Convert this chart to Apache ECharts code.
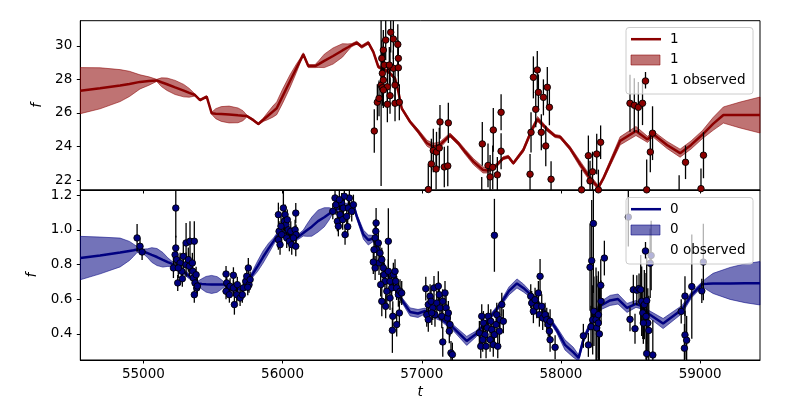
<!DOCTYPE html>
<html><head><meta charset="utf-8">
<script src="https://cdn.jsdelivr.net/npm/echarts@6/dist/echarts.min.js"></script>
<style>html,body{margin:0;padding:0;background:#fff}#c{width:800px;height:400px}</style>
</head><body><div id="c"></div>
<script>
// ---------- tick labels ----------
const xTicks = [55000, 56000, 57000, 58000, 59000];
const yTicksTop = [22, 24, 26, 28, 30];
const yTicksBottom = [0.4, 0.6, 0.8, 1.0, 1.2];

// ---------- GP prediction, output "1" (top panel) ----------
const gp1T = [54547,54689,54833,54900,54976,55040,55096,55130,55170,55228,55290,55330,55371,55407,55455,55491,55520,55560,55616,55680,55715,55743,55788,55826,55862,55889,55930,55958,56000,56054,56100,56130,56149,56185,56234,56260,56300,56363,56430,56470,56497,56533,56569,56616,56652,56688,56760,56808,56832,56856,56916,56976,57038,57083,57131,57203,57263,57311,57371,57440,57476,57527,57586,57622,57658,57730,57790,57832,57898,57958,57994,58065,58137,58209,58269,58305,58425,58539,58622,58662,58762,58856,58935,59017,59093,59167,59287,59430];
const gp1Mean = [27.33,27.47,27.63,27.73,27.85,27.90,27.94,27.83,27.71,27.52,27.33,27.20,27.07,26.77,26.97,25.98,25.96,25.94,25.91,25.86,25.84,25.82,25.59,25.35,25.60,25.79,26.08,26.28,26.99,27.90,28.67,29.17,29.49,28.79,28.79,28.91,29.10,29.39,29.72,29.91,30.04,30.18,29.94,30.18,29.64,28.75,28.46,28.06,27.27,26.28,25.48,24.89,24.20,24.00,24.10,24.69,24.20,23.70,23.11,22.61,22.58,22.81,23.31,23.40,23.01,23.80,24.99,25.64,25.05,24.63,24.58,23.90,22.97,22.12,21.57,22.12,24.34,24.93,24.43,24.75,24.10,23.61,24.10,24.72,25.35,25.88,25.88,25.88];
const gp1Sd = [1.37,1.22,0.95,0.75,0.42,0.25,0.06,0.26,0.37,0.42,0.37,0.26,0.06,0.06,0.06,0.06,0.30,0.44,0.50,0.44,0.30,0.06,0.06,0.06,0.10,0.20,0.33,0.38,0.42,0.38,0.25,0.12,0.09,0.09,0.09,0.20,0.40,0.48,0.40,0.20,0.09,0.09,0.09,0.09,0.09,0.09,0.09,0.09,0.09,0.09,0.09,0.12,0.18,0.20,0.18,0.12,0.12,0.15,0.18,0.18,0.15,0.12,0.09,0.09,0.09,0.12,0.15,0.15,0.12,0.09,0.09,0.12,0.18,0.18,0.12,0.12,0.24,0.27,0.18,0.18,0.21,0.24,0.24,0.24,0.38,0.48,0.77,1.07];

// ---------- observations, output "1" ----------
const obs1T = [56659,56681,56693,56708,56717,56724,56713,56731,56724,56717,56741,56753,56753,56777,56772,56796,56808,56796,56772,56808,56839,56828,56832,56832,56767,56724,
57047,57069,57083,57103,57106,57126,57131,57162,57187,57191,
57431,57435,57476,57491,57510,57514,57543,57570,57570,
57778,57785,57802,57819,57830,57838,57859,57874,57891,57902,57917,57929,
58148,58197,58209,58227,58257,58285,58269,
58496,58527,58556,58586,58616,58642,58658,58849,
58895,59006,59024];
const obs1F = [24.93,26.64,26.87,27.66,28.36,29.74,29.25,28.85,27.96,27.50,30.34,27.56,26.52,30.80,28.75,30.40,27.66,28.66,27.03,26.58,26.64,30.08,29.25,28.69,28.85,27.37,
21.45,22.97,23.77,22.67,23.68,23.92,25.47,22.79,22.85,25.41,
20.90,24.16,22.88,22.20,22.77,24.99,22.32,23.73,26.04,
22.36,24.85,28.12,26.22,28.56,27.23,24.85,26.93,24.04,27.53,26.34,22.06,
21.43,23.46,21.96,22.50,23.56,24.26,21.43,
26.58,26.46,26.34,26.58,21.43,23.68,24.80,21.00,
23.07,21.50,23.49];
const obs1E = [1.3,1.07,1.07,6.0,1.2,1.2,1.07,1.07,1.07,1.07,1.2,1.07,1.07,1.2,1.07,1.2,1.07,1.07,1.07,1.07,1.07,1.2,1.07,1.07,1.07,1.07,
1.5,1.5,1.3,1.2,1.2,1.2,1.0,1.2,1.2,1.2,
1.3,1.3,1.3,1.3,1.3,1.3,1.07,1.07,1.07,
1.2,1.2,1.25,1.07,1.13,1.07,1.07,1.07,1.2,1.2,1.07,1.07,
1.2,1.2,1.2,1.2,1.2,1.0,1.2,
1.7,1.6,1.5,1.3,1.8,1.2,1.6,1.3,
1.0,1.2,1.37];

// ---------- GP prediction, output "0" (bottom panel) ----------
const gp0T = [54547,54689,54833,54900,54930,54955,55000,55030,55060,55098,55140,55175,55199,55300,55393,55420,55450,55490,55530,55560,55580,55647,55716,55767,55790,55820,55860,55900,55935,55958,55994,56040,56102,56149,56175,56210,56255,56300,56335,56356,56449,56509,56533,56581,56616,56652,56700,56772,56856,56916,56973,57024,57131,57227,57323,57390,57469,57562,57627,57684,57730,57778,57850,57922,57970,58029,58089,58127,58161,58233,58281,58353,58410,58475,58539,58579,58626,58734,58870,58938,59017,59050,59093,59215,59323,59430];
const gp0Mean = [0.837,0.852,0.869,0.878,0.882,0.886,0.875,0.865,0.855,0.843,0.827,0.814,0.806,0.751,0.691,0.688,0.686,0.685,0.685,0.685,0.685,0.650,0.665,0.722,0.751,0.789,0.843,0.893,0.933,0.962,0.991,0.976,0.953,0.981,0.997,1.018,1.050,1.072,1.092,1.105,1.137,1.144,1.077,0.972,0.941,0.950,0.855,0.711,0.597,0.527,0.518,0.532,0.492,0.435,0.360,0.400,0.475,0.567,0.648,0.691,0.665,0.630,0.567,0.481,0.423,0.337,0.294,0.262,0.366,0.492,0.561,0.593,0.601,0.550,0.573,0.561,0.518,0.460,0.541,0.625,0.688,0.689,0.691,0.691,0.692,0.692];
const gp0Sd = [0.125,0.106,0.083,0.055,0.035,0.017,0.014,0.025,0.042,0.049,0.042,0.025,0.017,0.014,0.014,0.030,0.045,0.052,0.045,0.028,0.014,0.014,0.014,0.014,0.020,0.030,0.035,0.030,0.020,0.017,0.014,0.014,0.014,0.017,0.035,0.055,0.063,0.055,0.035,0.017,0.014,0.014,0.014,0.026,0.029,0.017,0.014,0.014,0.014,0.023,0.023,0.017,0.014,0.017,0.026,0.017,0.014,0.014,0.023,0.026,0.023,0.017,0.014,0.014,0.017,0.029,0.029,0.017,0.017,0.017,0.023,0.029,0.029,0.026,0.020,0.017,0.020,0.029,0.023,0.017,0.014,0.035,0.058,0.092,0.112,0.125];

// ---------- observations, output "0" ----------
const obs0T = [54955,54976,54991,
55233,55233,55228,55240,55216,55247,55264,55276,55287,55307,55307,55323,55335,55330,55352,55366,55355,55359,55371,55379,55384,55366,55280,55251,55388,
55594,55599,55594,55623,55618,55647,55654,55647,55671,55675,55695,55711,55718,55736,55743,55754,55759,55767,55750,
55970,55975,55970,55982,55994,56006,56018,56013,56025,56034,56042,56030,56049,56059,56066,56090,56095,56097,56095,56078,55989,
56361,56377,56384,56394,56401,56413,56425,56437,56432,56449,56461,56473,56480,56497,56509,56444,56408,56468,
56672,56670,56665,56677,56688,56700,56665,56693,56713,56724,56729,56736,56705,56713,56741,56760,56760,56772,56784,56796,56808,56813,56820,56832,56844,56856,56839,56792,56820,56789,56772,56749,56657,56652,
57029,57036,57047,57060,57067,57079,57088,57095,57108,57119,57126,57131,57144,57151,57167,57175,57184,57191,57203,57198,57151,57210,57220,57047,57072,
57522,
57414,57424,57431,57443,57455,57462,57471,57478,57491,57496,57503,57514,57522,57534,57539,57546,57558,57562,57575,57586,57438,
57783,57790,57802,57814,57826,57838,57850,57845,57862,57869,57886,57898,57909,57922,57917,57922,57958,
58161,58197,58216,58209,58221,58233,58228,58237,58252,58257,58269,58276,58269,58286,58288,58312,
58484,58496,58520,58532,58545,58561,58573,58580,58588,58599,58611,58616,58624,58631,58641,58648,58616,58660,58592,
58864,58891,58891,58903,58887,58940,59012,59023];
const obs0F = [0.953,0.905,0.872,
1.125,0.895,0.856,0.828,0.780,0.694,0.809,0.761,0.847,0.924,0.799,0.828,0.934,0.790,0.809,0.934,0.761,0.722,0.694,0.741,0.665,0.626,0.718,0.780,0.676,
0.745,0.694,0.646,0.675,0.626,0.738,0.569,0.665,0.626,0.684,0.607,0.626,0.665,0.703,0.732,0.780,0.684,0.713,0.669,
1.087,0.991,0.943,0.914,0.972,1.125,1.087,1.049,1.029,1.058,1.000,0.953,0.934,0.991,0.914,1.000,1.096,0.972,0.905,0.953,1.020,
1.106,1.183,1.144,1.049,1.020,1.087,1.154,1.125,1.058,0.972,1.077,1.125,1.183,1.106,1.144,1.193,1.173,1.018,
1.039,0.991,0.953,0.885,0.924,0.866,0.780,0.809,0.828,0.780,0.741,0.703,0.684,0.588,0.559,0.934,0.761,0.703,0.665,0.741,0.761,0.703,0.665,0.626,0.646,0.636,0.521,0.502,0.454,0.421,0.607,0.646,0.885,0.814,
0.661,0.511,0.569,0.617,0.588,0.550,0.665,0.511,0.578,0.675,0.626,0.550,0.502,0.588,0.636,0.550,0.492,0.521,0.454,0.416,0.354,0.291,0.281,0.482,0.521,
0.968,
0.406,0.329,0.502,0.463,0.396,0.329,0.435,0.502,0.367,0.473,0.425,0.338,0.396,0.454,0.511,0.329,0.416,0.482,0.569,0.473,0.367,
0.617,0.578,0.531,0.597,0.559,0.636,0.732,0.511,0.559,0.492,0.511,0.482,0.454,0.473,0.416,0.367,0.323,
0.389,0.337,0.442,0.784,0.822,1.036,0.481,0.531,0.482,0.435,0.511,0.400,0.463,0.680,0.588,0.837,
1.073,0.484,0.655,0.430,0.652,0.662,0.655,0.588,0.521,0.569,0.501,0.592,0.463,0.420,0.807,0.852,0.287,0.279,0.463,
0.530,0.618,0.394,0.364,0.318,0.673,0.648,0.814];
const obs0E = [0.08,0.046,0.046,
0.17,0.07,0.058,0.058,0.058,0.046,0.058,0.058,0.07,0.115,0.07,0.07,0.115,0.058,0.058,0.115,0.058,0.046,0.046,0.046,0.046,0.046,0.046,0.058,0.046,
0.046,0.046,0.046,0.046,0.046,0.046,0.058,0.046,0.046,0.046,0.046,0.046,0.046,0.046,0.058,0.058,0.046,0.046,0.046,
0.069,0.058,0.058,0.058,0.058,0.13,0.058,0.058,0.058,0.058,0.058,0.058,0.058,0.058,0.058,0.058,0.058,0.058,0.058,0.058,0.058,
0.046,0.058,0.058,0.058,0.058,0.058,0.058,0.058,0.058,0.058,0.058,0.058,0.058,0.058,0.058,0.058,0.058,0.058,
0.086,0.069,0.069,0.069,0.069,0.069,0.069,0.069,0.069,0.069,0.069,0.069,0.069,0.086,0.069,0.19,0.069,0.069,0.069,0.069,0.069,0.069,0.069,0.069,0.069,0.069,0.069,0.086,0.069,0.13,0.069,0.069,0.069,0.069,
0.069,0.069,0.069,0.069,0.069,0.069,0.069,0.069,0.069,0.086,0.069,0.069,0.069,0.069,0.069,0.069,0.069,0.069,0.069,0.069,0.086,0.069,0.069,0.069,0.069,
0.21,
0.069,0.069,0.069,0.069,0.069,0.069,0.069,0.069,0.069,0.069,0.069,0.069,0.069,0.069,0.069,0.069,0.069,0.069,0.069,0.069,0.069,
0.069,0.069,0.069,0.069,0.069,0.069,0.10,0.069,0.069,0.069,0.069,0.069,0.069,0.069,0.069,0.069,0.069,
0.069,0.069,0.12,0.25,0.35,0.40,0.20,0.20,0.30,0.30,0.25,0.30,0.25,0.15,0.12,0.10,
0.17,0.069,0.086,0.086,0.086,0.086,0.20,0.20,0.15,0.20,0.25,0.25,0.20,0.20,0.20,0.20,0.20,0.20,0.12,
0.07,0.115,0.14,0.14,0.14,0.30,0.07,0.22];

// ---------- styling ----------
const FONT = 'DejaVu Sans';
const FS = 13.5;
const RED = '#8b0000', NAVY = '#000080';
const RED_BAND = 'rgba(139,0,0,0.55)', NAVY_BAND = 'rgba(0,0,128,0.55)';

function bandSeries(T, M, S, idx, color) {
  return {
    type: 'custom', xAxisIndex: idx, yAxisIndex: idx, clip: true, z: 1, silent: true,
    data: T.map((t, i) => [t, M[i] - S[i], M[i] + S[i]]),
    encode: { x: 0, y: [1, 2] },
    renderItem: (params, api) => {
      if (params.dataIndex !== 0) return null;
      const pts = [];
      for (let i = 0; i < T.length; i++) pts.push(api.coord([T[i], M[i] + S[i]]));
      for (let i = T.length - 1; i >= 0; i--) pts.push(api.coord([T[i], M[i] - S[i]]));
      return { type: 'polygon', shape: { points: pts }, style: { fill: color, stroke: color, lineWidth: 1 } };
    }
  };
}
function lineSeries(T, M, idx, color) {
  return {
    type: 'line', xAxisIndex: idx, yAxisIndex: idx, z: 2, silent: true,
    data: T.map((t, i) => [t, M[i]]), showSymbol: false, symbol: 'none',
    lineStyle: { color: color, width: 2.5 }
  };
}
function errSeries(T, F, E, idx) {
  return {
    type: 'custom', xAxisIndex: idx, yAxisIndex: idx, z: 3, silent: true,
    data: T.map((t, i) => [t, F[i], E[i]]),
    encode: { x: 0, y: 1 },
    renderItem: (params, api) => {
      const t = api.value(0), f = api.value(1), e = api.value(2);
      const a = api.coord([t, f + e]), b = api.coord([t, f - e]);
      const cs = params.coordSys;
      const y1 = Math.max(cs.y, a[1]), y2 = Math.min(cs.y + cs.height, b[1]);
      if (y2 <= y1) return null;
      return { type: 'line', shape: { x1: a[0], y1: y1, x2: a[0], y2: y2 }, style: { stroke: '#000', lineWidth: 1.3 } };
    }
  };
}
function markerSeries(T, F, idx, color) {
  return {
    type: 'scatter', xAxisIndex: idx, yAxisIndex: idx, z: 4, silent: true,
    data: T.map((t, i) => [t, F[i]]), symbol: 'circle', symbolSize: 6.5,
    itemStyle: { color: color, borderColor: '#000', borderWidth: 0.9, opacity: 1 }
  };
}

function legendGraphics(top, label, color, band) {
  const g = [];
  g.push({ type: 'rect', z: 100, shape: { x: 626, y: top, width: 127, height: 66.5, r: 3 },
    style: { fill: 'rgba(255,255,255,0.7)', stroke: '#cccccc', lineWidth: 1 } });
  g.push({ type: 'line', z: 101, shape: { x1: 631, y1: top + 11.7, x2: 661, y2: top + 11.7 },
    style: { stroke: color, lineWidth: 2.5 } });
  g.push({ type: 'rect', z: 101, shape: { x: 631, y: top + 27.5, width: 29, height: 10 },
    style: { fill: band, stroke: band, lineWidth: 1 } });
  g.push({ type: 'line', z: 101, shape: { x1: 645.5, y1: top + 44.5, x2: 645.5, y2: top + 61 },
    style: { stroke: '#000', lineWidth: 1.3 } });
  g.push({ type: 'circle', z: 102, shape: { cx: 645.5, cy: top + 53.5, r: 3.3 },
    style: { fill: color, stroke: '#000', lineWidth: 0.9 } });
  const texts = [label, label, label + ' observed'];
  const ys = [top + 11.7, top + 32, top + 53];
  texts.forEach((t, i) => g.push({ type: 'text', z: 103, x: 670, y: ys[i],
    style: { text: t, fill: '#000', font: FS + 'px "' + FONT + '"', textVerticalAlign: 'middle', verticalAlign: 'middle' } }));
  return g;
}

const axisCommon = {
  type: 'value',
  axisLine: { show: true, onZero: false, lineStyle: { color: '#000', width: 1 } },
  splitLine: { show: false }
};

const option = {
  animation: false,
  backgroundColor: '#fff',
  grid: [
    { left: 80.3, width: 679.7, top: 20.7, height: 169.3, show: true, borderColor: '#000', borderWidth: 1, backgroundColor: 'transparent' },
    { left: 80.3, width: 679.7, top: 190, height: 170, show: true, borderColor: '#000', borderWidth: 1, backgroundColor: 'transparent' }
  ],
  xAxis: [
    Object.assign({}, axisCommon, { gridIndex: 0, min: 54547, max: 59430,
      axisTick: { show: true, customValues: xTicks, length: 3.5, lineStyle: { color: '#000' } },
      axisLabel: { show: false } }),
    Object.assign({}, axisCommon, { gridIndex: 1, min: 54547, max: 59430,
      axisTick: { show: true, customValues: xTicks, length: 3.5, lineStyle: { color: '#000' } },
      axisLabel: { show: true, customValues: xTicks, color: '#000', fontFamily: FONT, fontSize: FS, margin: 7,
        formatter: v => String(Math.round(v)) },
      name: 't', nameLocation: 'middle', nameGap: 25,
      nameTextStyle: { fontStyle: 'italic', fontFamily: FONT, fontSize: FS, color: '#000' } })
  ],
  yAxis: [
    Object.assign({}, axisCommon, { gridIndex: 0, min: 21.42, max: 31.49,
      axisTick: { show: true, customValues: yTicksTop, length: 3.5, lineStyle: { color: '#000' } },
      axisLabel: { show: true, customValues: yTicksTop, color: '#000', fontFamily: FONT, fontSize: FS, margin: 8,
        formatter: v => String(Math.round(v)) },
      name: 'f', nameLocation: 'middle', nameGap: 35,
      nameTextStyle: { fontStyle: 'italic', fontFamily: FONT, fontSize: FS, color: '#000' } }),
    Object.assign({}, axisCommon, { gridIndex: 1, min: 0.25, max: 1.229,
      axisTick: { show: true, customValues: yTicksBottom, length: 3.5, lineStyle: { color: '#000' } },
      axisLabel: { show: true, customValues: yTicksBottom, color: '#000', fontFamily: FONT, fontSize: FS, margin: 8,
        formatter: v => Number(v).toFixed(1) },
      name: 'f', nameLocation: 'middle', nameGap: 38,
      nameTextStyle: { fontStyle: 'italic', fontFamily: FONT, fontSize: FS, color: '#000' } })
  ],
  series: [
    bandSeries(gp1T, gp1Mean, gp1Sd, 0, RED_BAND),
    lineSeries(gp1T, gp1Mean, 0, RED),
    errSeries(obs1T, obs1F, obs1E, 0),
    markerSeries(obs1T, obs1F, 0, RED),
    bandSeries(gp0T, gp0Mean, gp0Sd, 1, NAVY_BAND),
    lineSeries(gp0T, gp0Mean, 1, NAVY),
    errSeries(obs0T, obs0F, obs0E, 1),
    markerSeries(obs0T, obs0F, 1, NAVY)
  ],
  graphic: legendGraphics(27.5, '1', RED, RED_BAND).concat(legendGraphics(197.5, '0', NAVY, NAVY_BAND))
};

const chart = echarts.init(document.getElementById('c'), null, { renderer: 'canvas' });
chart.setOption(option);
</script>
</body></html>
